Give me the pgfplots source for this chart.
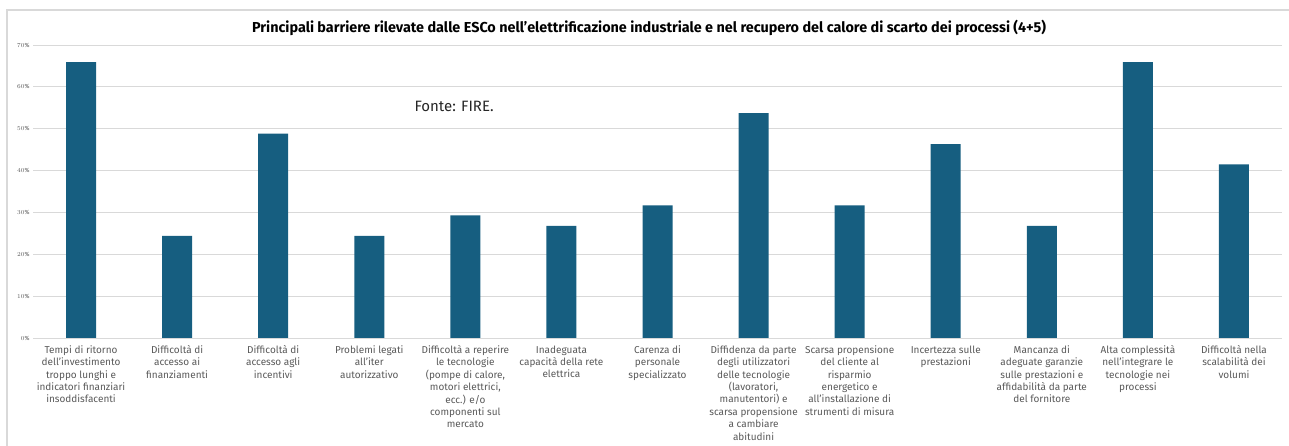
\documentclass[border=0pt]{standalone}
\usepackage{fontspec}
\setmainfont{Fira Sans}
\usepackage{pgfplots}
\pgfplotsset{compat=1.18}
\definecolor{barblue}{RGB}{22,94,128}
\definecolor{gridgray}{RGB}{217,217,217}
\definecolor{labgray}{RGB}{89,89,89}
\begin{document}
\begin{tikzpicture}[x=1pt,y=1pt]
\path[use as bounding box] (0,0) rectangle (1289,446);
\draw[gridgray,line width=1.2pt] (7,0) -- (7,436) -- (1289,436);
\node[font=\bfseries\fontsize{14.4}{16}\selectfont] at (649,418) {Principali barriere rilevate dalle ESCo nell'elettrificazione industriale e nel recupero del calore di scarto dei processi (4+5)};
\node[font=\fontsize{15}{17}\selectfont,anchor=west,text=black!85] at (411,340) {Fonte: FIRE.};
\begin{axis}[
  at={(33pt,108pt)}, anchor=south west,
  scale only axis, width=1249pt, height=293pt,
  xmin=-0.5, xmax=12.5, ymin=0, ymax=70,
  ytick={0,10,...,70},
  yticklabel={\pgfmathprintnumber{\tick}\%},
  yticklabel style={font=\fontsize{6}{7}\selectfont, text=labgray},
  ymajorgrids, grid style={gridgray, line width=0.8pt},
  axis line style={draw=none},
  major tick length=0pt,
  xtick={0,...,12},
  xticklabels={
    {Tempi di ritorno\\dell'investimento\\troppo lunghi e\\indicatori finanziari\\insoddisfacenti},
    {Difficoltà di\\accesso ai\\finanziamenti},
    {Difficoltà di\\accesso agli\\incentivi},
    {Problemi legati\\all'iter\\autorizzativo},
    {Difficoltà a reperire\\le tecnologie\\(pompe di calore,\\motori elettrici,\\ecc.) e/o\\componenti sul\\mercato},
    {Inadeguata\\capacità della rete\\elettrica},
    {Carenza di\\personale\\specializzato},
    {Diffidenza da parte\\degli utilizzatori\\delle tecnologie\\(lavoratori,\\manutentori) e\\scarsa propensione\\a cambiare\\abitudini},
    {Scarsa propensione\\del cliente al\\risparmio\\energetico e\\all'installazione di\\strumenti di misura},
    {Incertezza sulle\\prestazioni},
    {Mancanza di\\adeguate garanzie\\sulle prestazioni e\\affidabilità da parte\\del fornitore},
    {Alta complessità\\nell'integrare le\\tecnologie nei\\processi},
    {Difficoltà nella\\scalabilità dei\\volumi}},
  xticklabel style={font=\fontsize{10}{12.4}\selectfont, text=labgray, align=center, anchor=north, yshift=-4pt},
  ybar, bar width=30pt,
]
\addplot[fill=barblue, draw=none] coordinates {
(0,65.9) (1,24.4) (2,48.8) (3,24.4) (4,29.3) (5,26.8) (6,31.7)
(7,53.7) (8,31.7) (9,46.3) (10,26.8) (11,65.9) (12,41.5)};
\end{axis}
\end{tikzpicture}
\end{document}
